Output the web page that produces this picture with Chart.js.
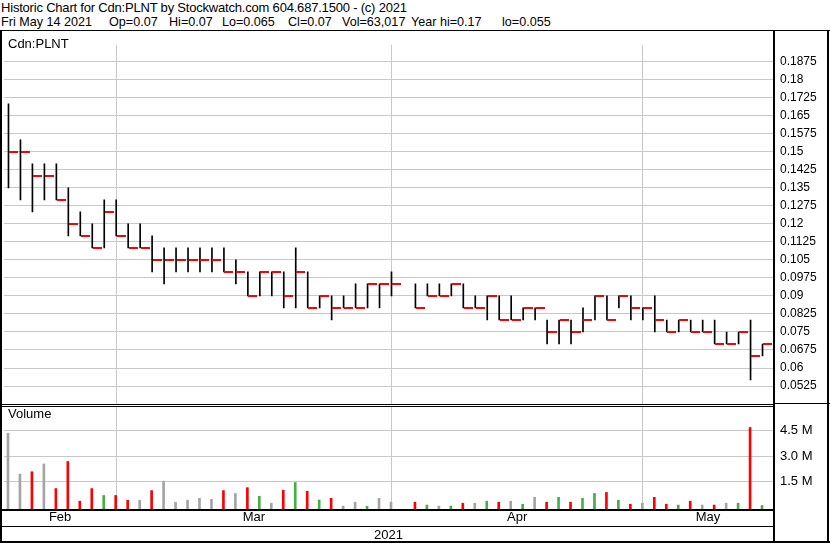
<!DOCTYPE html>
<html><head><meta charset="utf-8">
<script src="https://cdn.jsdelivr.net/npm/chart.js@4/dist/chart.umd.min.js"></script>
<style>
html,body{margin:0;padding:0;background:#fff;}
#wrap{position:relative;width:830px;height:543px;overflow:hidden;background:#fff;font-family:"Liberation Sans",Arial,sans-serif;color:#000;}
.t{position:absolute;white-space:pre;font-size:13px;line-height:15px;}
.s{font-size:12.6px;}
#c{position:absolute;left:0;top:30px;}
</style></head><body>
<div id="wrap">
<div class="t" style="left:1px;top:0px;letter-spacing:-0.2px">Historic Chart for Cdn:PLNT by Stockwatch.com 604.687.1500 - (c) 2021</div>
<div id="l2"></div>
<canvas id="c" width="830" height="513"></canvas>
<div class="t" style="left:8px;top:36px">Cdn:PLNT</div>
<div class="t" style="left:8px;top:406px">Volume</div>
</div>
<script>
// ---- data ----
const dates = ['Feb 12','Feb 16','Feb 17','Feb 18','Feb 19','Feb 22','Feb 23','Feb 24','Feb 25','Feb 26',
 'Mar 1','Mar 2','Mar 3','Mar 4','Mar 5','Mar 8','Mar 9','Mar 10','Mar 11','Mar 12','Mar 15','Mar 16','Mar 17','Mar 18','Mar 19','Mar 22','Mar 23','Mar 24','Mar 25','Mar 26','Mar 29','Mar 30','Mar 31',
 'Apr 1','Apr 5','Apr 6','Apr 7','Apr 8','Apr 9','Apr 12','Apr 13','Apr 14','Apr 15','Apr 16','Apr 19','Apr 20','Apr 21','Apr 22','Apr 23','Apr 26','Apr 27','Apr 28','Apr 29','Apr 30',
 'May 3','May 4','May 5','May 6','May 7','May 10','May 11','May 12','May 13','May 14'];
const high = [.17,.155,.145,.145,.145,.135,.125,.12,.13,.13,
 .12,.12,.115,.11,.11,.11,.11,.11,.11,.105,
 .1,.1,.1,.1,.11,.1,.09,.09,.09,.095,
 .095,.095,.1,null,.095,.095,.095,.095,.095,.09,
 .09,.09,.09,.085,.085,.08,.08,.08,.085,.09,
 .09,.09,.09,.085,.09,.08,.08,.08,.08,.08,
 .075,.075,.08,.07];
const low = [.135,.13,.125,.13,.13,.115,.115,.11,.11,.115,
 .11,.11,.1,.095,.1,.1,.1,.1,.1,.095,
 .09,.09,.09,.085,.085,.085,.085,.08,.085,.085,
 .085,.085,.09,null,.085,.09,.09,.09,.085,.085,
 .08,.08,.08,.08,.08,.07,.07,.07,.075,.08,
 .08,.085,.08,.08,.075,.075,.075,.075,.075,.07,
 .07,.07,.055,.065];
const close = [.15,.15,.14,.14,.13,.12,.115,.11,.125,.115,
 .11,.11,.105,.105,.105,.105,.105,.105,.1,.1,
 .09,.1,.1,.09,.1,.085,.09,.085,.085,.085,
 .095,.095,.095,null,.085,.09,.09,.095,.085,.085,
 .09,.08,.08,.085,.085,.075,.08,.075,.08,.09,
 .08,.09,.085,.085,.08,.075,.08,.075,.075,.07,
 .07,.075,.065,.07];
const volumeM = [4.36,1.93,2.07,2.53,1.07,2.68,0.32,1.07,0.66,0.66,
 0.375,0.375,0.95,1.51,0.26,0.375,0.49,0.43,0.95,0.78,
 1.125,0.61,0.20,0.97,1.43,0.91,0.39,0.49,0.03,0.26,
 0.02,0.49,0.26,null,0.26,0.09,0.03,0.03,0.20,0.20,
 0.32,0.26,0.32,0.14,0.55,0.26,0.55,0.26,0.49,0.78,
 0.84,0.375,0.14,0.20,0.55,0.14,0.09,0.32,0.09,0.09,
 0.20,0.20,4.70,0.063];
const priceTickLabels = ['0.0525','0.06','0.0675','0.075','0.0825','0.09','0.0975','0.105','0.1125','0.12','0.1275','0.135','0.1425','0.15','0.1575','0.165','0.1725','0.18','0.1875'];
const volTickLabels = ['1.5 M','3.0 M','4.5 M'];
const monthNames = {Feb:'Feb',Mar:'Mar',Apr:'Apr',May:'May'};
const yearLabel = '2021';

// ---- header line 2 ----
const l2items = [['Fri May 14 2021',1],['Op=0.07',109],['Hi=0.07',169],['Lo=0.065',222],['Cl=0.07',288],['Vol=63,017',342],['Year hi=0.17',411],['lo=0.055',502]];
const l2 = document.getElementById('l2');
l2items.forEach(([s,x])=>{const d=document.createElement('div');d.className='t s';d.style.left=x+'px';d.style.top='14.5px';d.textContent=s;l2.appendChild(d);});

// ---- layout constants ----
const X_MIN = -0.375, X_MAX = 63.875;
const RED='#ff0000', GREEN='#44b044', GREY='#a4a4a4', GRID='#c8c8c8';

// month ticks
const mon = d => d.split(' ')[0];
const monthEnds = [];
for (let i=0;i<dates.length-1;i++) if (mon(dates[i])!==mon(dates[i+1])) monthEnds.push(i);
const xTicks = [];
let prev = X_MIN;
const bounds = monthEnds.concat([X_MAX]);
const monthsInOrder = [];
dates.forEach(d=>{if(!monthsInOrder.includes(mon(d))) monthsInOrder.push(mon(d));});
bounds.forEach((b,k)=>{ xTicks.push({value:(prev+b)/2,label:monthNames[monthsInOrder[k]],grid:false}); prev=b; });
monthEnds.forEach(i=>xTicks.push({value:i,label:'',grid:true}));
xTicks.sort((a,b)=>a.value-b.value);
const findX = v => xTicks.find(t=>Math.abs(t.value-v)<1e-6);

// datasets
const hl=[], cl=[], vol=[], volCol=[];
let prevClose=null;
for (let i=0;i<dates.length;i++){
  if (high[i]==null) continue;
  hl.push({x:i,y:[low[i],high[i]]});
  cl.push({x:i,y:close[i]});
  vol.push({x:i,y:volumeM[i]});
  volCol.push(prevClose==null||close[i]===prevClose?GREY:(close[i]>prevClose?GREEN:RED));
  prevClose=close[i];
}
const tickImg=document.createElement('canvas'); tickImg.width=19; tickImg.height=2;
{const t=tickImg.getContext('2d'); t.fillStyle=RED; t.fillRect(10,0,9,2);}

const priceVals = priceTickLabels.map(parseFloat);
const volVals = volTickLabels.map(s=>parseFloat(s));

const crispPlugin = {
  id:'crisp',
  beforeDatasetsDraw(chart){ chart.ctx.imageSmoothingEnabled=false; },
  afterDatasetsDraw(chart){ chart.ctx.imageSmoothingEnabled=true; }
};
const framePlugin = {
  id:'frame',
  afterDraw(chart){
    const c=chart.ctx, a=chart.chartArea, W=chart.width, H=chart.height;
    const R=Math.round(a.right), B=Math.round(a.bottom);
    const sep=Math.round(chart.scales.yPrice.bottom);
    c.save();
    c.fillStyle='#fff'; c.fillRect(0,sep,R,3);
    c.fillStyle='#000';
    c.fillRect(0,0,W,1);
    c.fillRect(0,0,2,H);
    c.fillRect(W-3,0,2,H);
    c.fillRect(0,H-2,W,2);
    c.fillRect(R,0,2,H);
    c.fillRect(0,sep,R,1); c.fillRect(0,sep+2,R,1);
    c.fillRect(R,sep-1,W-R,1);
    c.fillRect(0,B,R,2);
    c.fillRect(0,B+17,R,1);
    c.restore();
  }
};

Chart.defaults.font.family='"Liberation Sans", Arial, sans-serif';
Chart.defaults.color='#000';

new Chart(document.getElementById('c'),{
  data:{datasets:[
    {type:'line',data:cl,xAxisID:'x',yAxisID:'yPrice',showLine:false,pointStyle:tickImg,pointRadius:3,pointHoverRadius:3},
    {type:'bar',data:hl,xAxisID:'x',yAxisID:'yPrice',backgroundColor:'#000',borderWidth:0,barThickness:1,grouped:false},
    {type:'bar',data:vol,xAxisID:'xv',yAxisID:'yVol',backgroundColor:volCol,borderWidth:0,barThickness:2,grouped:false,base:-0.1442}
  ]},
  options:{
    responsive:false, animation:false, devicePixelRatio:1, events:[],
    layout:{padding:{left:2,top:1,right:0,bottom:0}},
    plugins:{legend:{display:false},tooltip:{enabled:false}},
    scales:{
      yPrice:{type:'linear',position:'right',stack:'v',stackWeight:370,min:0.04497,max:0.19453,bounds:'data',
        afterBuildTicks:s=>{s.ticks=priceVals.map(v=>({value:v}));},
        afterFit:s=>{s.width=57;},
        grid:{color:GRID,drawTicks:false,lineWidth:1},border:{display:false},
        ticks:{padding:7,autoSkip:false,font:{size:12},color:'#000',callback:(v)=>{const k=priceVals.findIndex(p=>Math.abs(p-v)<1e-9);return k>=0?priceTickLabels[k]:'';}}},
      yVol:{type:'linear',position:'right',stack:'v',stackWeight:108,min:-0.1442,max:6.0865,bounds:'data',
        afterBuildTicks:s=>{s.ticks=volVals.map(v=>({value:v}));},
        afterFit:s=>{s.width=57;},
        grid:{color:GRID,drawTicks:false,lineWidth:1},border:{display:false},
        ticks:{padding:7,autoSkip:false,font:{size:13},color:'#000',callback:(v)=>{const k=volVals.findIndex(p=>Math.abs(p-v)<1e-9);return k>=0?volTickLabels[k]:'';}}},
      x:{type:'linear',position:'bottom',min:X_MIN,max:X_MAX,bounds:'data',offset:false,
        afterBuildTicks:s=>{s.ticks=xTicks.map(t=>({value:t.value}));},
        afterFit:s=>{s.height=34;},
        grid:{offset:false,drawTicks:false,lineWidth:1,color:ctx=>{const t=ctx.tick&&findX(ctx.tick.value);return t&&t.grid?GRID:'rgba(0,0,0,0)';}},
        border:{display:false},
        ticks:{padding:1,autoSkip:false,maxRotation:0,minRotation:0,font:{size:13},color:'#000',callback:(v)=>{const t=findX(v);return t?t.label:'';}},
        title:{display:true,text:yearLabel,font:{size:13},color:'#000',padding:{top:0,bottom:0}}},
      xv:{type:'linear',display:false,offset:false,grid:{offset:false},min:X_MIN+0.5/12,max:X_MAX+0.5/12}
    }
  },
  plugins:[crispPlugin,framePlugin]
});
</script>
</body></html>
